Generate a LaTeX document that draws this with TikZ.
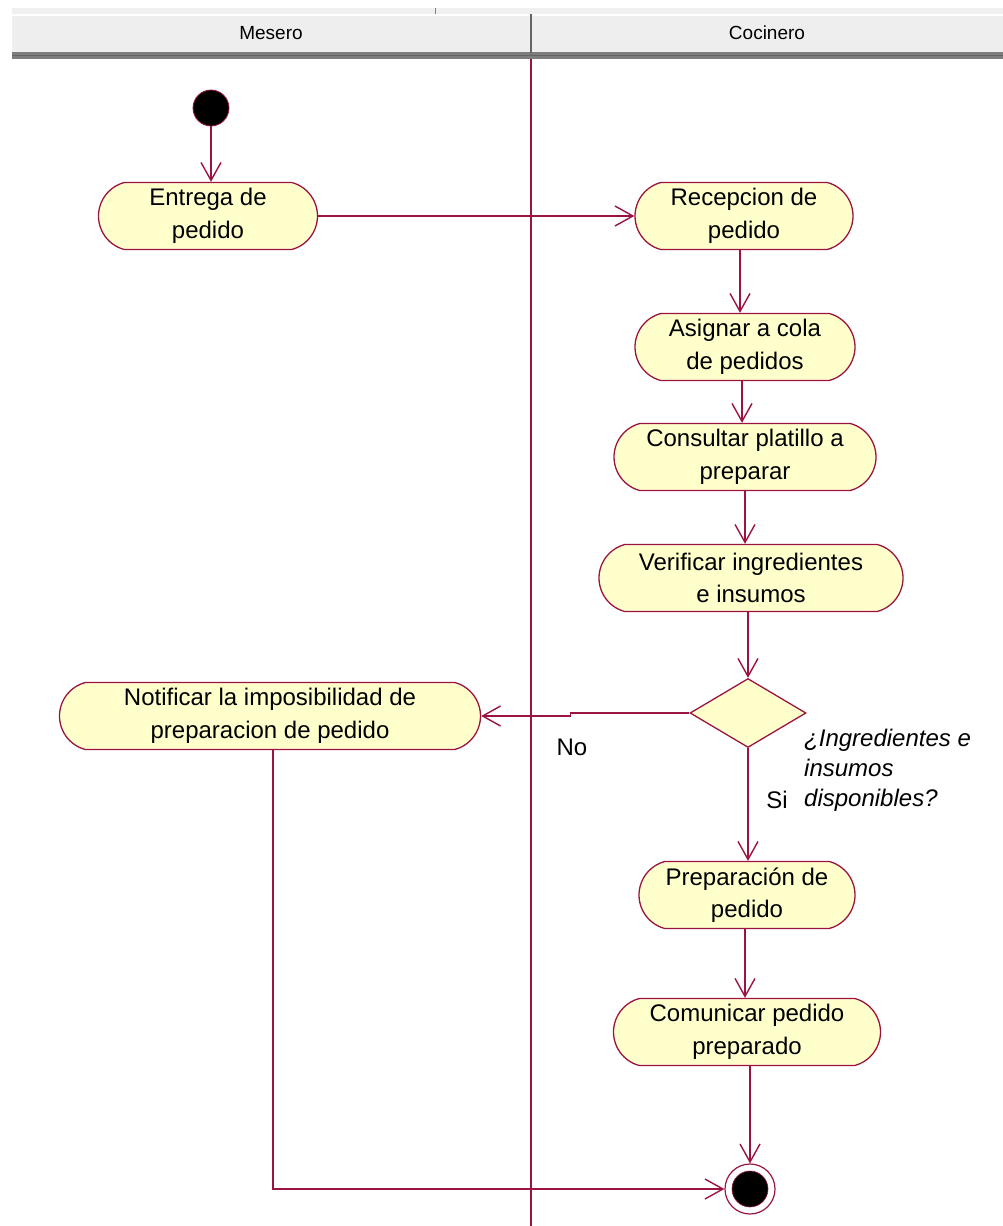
\documentclass[tikz,border=0pt]{standalone}
\usepackage{fontspec}
\setmainfont{Liberation Sans}
\usetikzlibrary{shapes.misc,shapes.geometric,arrows.meta}
\definecolor{lane}{RGB}{155,20,65}
\definecolor{actfill}{RGB}{255,255,204}
\definecolor{hdrfill}{RGB}{238,238,238}
\definecolor{hdrstrip}{RGB}{240,240,240}
\definecolor{hdrline}{RGB}{125,125,125}
\definecolor{hdrdark}{RGB}{100,100,100}
\begin{document}
\begin{tikzpicture}[x=1pt,y=-1pt,
  act/.style={rounded rectangle, rounded rectangle arc length=150,
    draw=lane, fill=actfill, line width=1.3pt, minimum height=67pt,
    inner xsep=4pt, inner ysep=0pt, align=center,
    font=\fontsize{24}{32.5}\selectfont},
  dec/.style={diamond, draw=lane, fill=actfill, line width=1.3pt,
    minimum width=116pt, minimum height=69pt, inner sep=0pt},
  flow/.style={draw=lane, line width=1.6pt,
    -{Straight Barb[length=18pt,width=20pt,line width=1.4pt]}},
  lbl/.style={font=\fontsize{24}{30}\selectfont, inner sep=0pt},
  hdr/.style={font=\fontsize{19}{21}\selectfont, inner sep=0pt}]

\useasboundingbox (0,0) rectangle (1003,1226);

% swimlane header
\fill[hdrstrip] (12,8) rectangle (1003,14);
\fill[hdrfill] (12,16) rectangle (1003,52);
\fill[hdrline] (12,52) rectangle (1003,59);
\draw[hdrdark, line width=1.5pt] (12,55.5) -- (1003,55.5);
\draw[gray, line width=1pt] (435,8) -- (435,14);
\draw[hdrdark, line width=2pt] (531,14) -- (531,53);
\node[hdr] (mesero) at (271,33) {Mesero};
\node[hdr] (cocinero) at (767,33) {Cocinero};

% lane separator
\draw[lane, line width=1.6pt] (531,59) -- (531,1226);

% activities
\node[circle, fill=black, draw=lane, line width=0.8pt, minimum size=36pt, inner sep=0pt] (start) at (211,108) {};
\node[act, minimum width=227pt] (entrega) at (208,216) {Entrega de\\pedido};
\node[act, minimum width=226pt] (recep) at (744,216) {Recepcion de\\pedido};
\node[act, minimum width=228pt] (asig) at (745,347) {Asignar a cola\\de pedidos};
\node[act, minimum width=270pt] (cons) at (745,457) {Consultar platillo a\\preparar};
\node[act, minimum width=312pt] (verif) at (751,578) {Verificar ingredientes\\e insumos};
\node[dec] (dec) at (748,713) {};
\node[act, minimum width=429pt] (notif) at (270,716) {Notificar la imposibilidad de\\preparacion de pedido};
\node[act, minimum width=224pt] (prep) at (747,895) {Preparación de\\pedido};
\node[act, minimum width=275pt] (comun) at (747,1032) {Comunicar pedido\\preparado};
\node[circle, draw=lane, fill=white, line width=1.2pt, minimum size=50pt, inner sep=0pt] (end) at (750,1189) {};
\node[circle, fill=black, draw=lane, line width=0.6pt, minimum size=36pt, inner sep=0pt] (endin) at (end.center) {};

% flows
\draw[flow] (start) -- (start |- entrega.north);
\draw[flow] (entrega.east) -- (recep.west);
\draw[flow] (recep.south -| 740,0) -- (asig.north -| 740,0);
\draw[flow] (asig.south -| 742,0) -- (cons.north -| 742,0);
\draw[flow] (cons.south -| 745,0) -- (verif.north -| 745,0);
\draw[flow] (verif.south -| dec) -- (dec.north);
\draw[flow] (dec.west) -- ++(-119,0) |- (notif.east);
\draw[flow] (dec.south) -- (dec.south |- prep.north);
\draw[flow] (prep.south -| 745,0) -- (comun.north -| 745,0);
\draw[flow] (comun.south -| end) -- (end.north);
\draw[flow] (notif.south -| 273,0) |- (end.west);

% guard labels
\node[lbl] (no) at (572,747) {No};
\node[lbl] (si) at (777,800) {Si};
\node[lbl, font=\itshape\fontsize{24}{30}\selectfont, align=left, anchor=north west] (guard) at (804,729) {¿Ingredientes e\\insumos\\disponibles?};
\end{tikzpicture}
\end{document}
